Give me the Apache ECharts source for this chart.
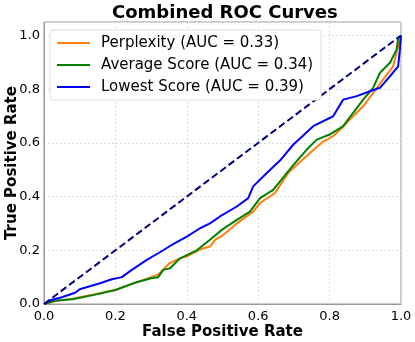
<!DOCTYPE html>
<html>
<head>
<meta charset="utf-8">
<script src="https://cdn.jsdelivr.net/npm/echarts@6/dist/echarts.min.js"></script>
<style>
  html, body { margin: 0; padding: 0; background: #fff; }
  #chart { width: 415px; height: 342px; }
</style>
</head>
<body>
<div id="chart"></div>
<script>
// curve values
var perplexityFpr = [0, 0.03, 0.08, 0.14, 0.2, 0.25, 0.3, 0.32, 0.35, 0.38, 0.40, 0.44, 0.465, 0.48, 0.5, 0.54, 0.586, 0.605, 0.647, 0.684, 0.71, 0.745, 0.782, 0.81, 0.829, 0.866, 0.894, 0.922, 0.95, 0.978, 0.992, 1.0]
var perplexityTpr = [0, 0.01, 0.02, 0.035, 0.052, 0.077, 0.10, 0.11, 0.15, 0.17, 0.177, 0.205, 0.214, 0.24, 0.255, 0.30, 0.344, 0.376, 0.413, 0.488, 0.52, 0.562, 0.605, 0.625, 0.649, 0.699, 0.736, 0.786, 0.836, 0.885, 0.96, 1.0]

var averageFpr = [0, 0.03, 0.08, 0.14, 0.2, 0.25, 0.3, 0.32, 0.334, 0.353, 0.381, 0.428, 0.465, 0.498, 0.54, 0.577, 0.605, 0.642, 0.684, 0.70, 0.736, 0.764, 0.80, 0.838, 0.866, 0.894, 0.922, 0.941, 0.969, 0.988, 0.992, 1.0]
var averageTpr = [0, 0.012, 0.018, 0.034, 0.052, 0.077, 0.096, 0.10, 0.127, 0.133, 0.17, 0.20, 0.239, 0.276, 0.313, 0.344, 0.394, 0.425, 0.494, 0.52, 0.575, 0.612, 0.631, 0.662, 0.712, 0.761, 0.805, 0.861, 0.898, 0.948, 0.99, 1.0]

var lowestFpr = [0, 0.02, 0.05, 0.087, 0.10, 0.157, 0.19, 0.218, 0.246, 0.288, 0.32, 0.353, 0.40, 0.437, 0.465, 0.493, 0.54, 0.572, 0.586, 0.624, 0.661, 0.698, 0.754, 0.81, 0.838, 0.876, 0.913, 0.941, 0.969, 0.992, 0.997, 1.0]
var lowestTpr = [0, 0.015, 0.025, 0.042, 0.055, 0.077, 0.092, 0.10, 0.127, 0.164, 0.189, 0.216, 0.251, 0.282, 0.30, 0.326, 0.363, 0.394, 0.438, 0.488, 0.534, 0.593, 0.662, 0.699, 0.761, 0.774, 0.792, 0.805, 0.848, 0.885, 0.948, 1.0]

var chanceLine = [[0, 0], [1, 1]]
var seriesNames = ['Perplexity (AUC = 0.33)', 'Average Score (AUC = 0.34)', 'Lowest Score (AUC = 0.39)']

function zip(xs, ys) {
  return xs.map(function (x, i) { return [x, ys[i]] })
}

var font = 'DejaVu Sans'
var chart = echarts.init(document.getElementById('chart'))

function curve(name, data, color) {
  return {
    name: name,
    type: 'line',
    data: data,
    symbol: 'none',
    lineStyle: { color: color, width: 2 },
    itemStyle: { color: color }
  }
}

chart.setOption({
  animation: false,
  backgroundColor: '#ffffff',
  title: {
    text: 'Combined ROC Curves',
    left: 107,
    top: -1,
    textStyle: { fontFamily: font, fontSize: 18, fontWeight: 'bold', color: '#000' }
  },
  legend: {
    data: seriesNames,
    orient: 'vertical',
    left: 50,
    top: 30,
    icon: 'rect',
    itemWidth: 33,
    itemHeight: 2,
    itemGap: 4,
    padding: [4, 8, 4, 7],
    backgroundColor: '#ffffff',
    borderColor: '#dddddd',
    borderWidth: 1,
    borderRadius: 3,
    textStyle: { fontFamily: font, fontSize: 15, lineHeight: 18, color: '#000', padding: [0, 0, 0, 6] }
  },
  grid: {
    left: 44,
    right: 14,
    top: 22,
    bottom: 38,
    outerBoundsMode: 'none',
    containLabel: false,
    show: true,
    borderColor: '#999999',
    borderWidth: 1
  },
  xAxis: {
    type: 'value',
    min: 0,
    max: 1,
    interval: 0.2,
    name: 'False Positive Rate',
    nameLocation: 'middle',
    nameGap: 21,
    nameMoveOverlap: false,
    nameTextStyle: { fontFamily: font, fontSize: 15, fontWeight: 'bold', color: '#000' },
    axisLine: { lineStyle: { color: '#999999' } },
    axisTick: { show: false },
    axisLabel: {
      margin: 6,
      fontFamily: font,
      fontSize: 13,
      color: '#000',
      formatter: function (v) { return v.toFixed(1) }
    },
    splitLine: { lineStyle: { color: '#dcdcdc', type: [2, 2] } }
  },
  yAxis: {
    type: 'value',
    min: 0,
    max: 1.05,
    interval: 0.2,
    name: 'True Positive Rate',
    nameLocation: 'middle',
    nameRotate: 90,
    nameGap: 24,
    nameMoveOverlap: false,
    nameTextStyle: { fontFamily: font, fontSize: 15, fontWeight: 'bold', color: '#000' },
    axisLine: { show: true, lineStyle: { color: '#999999' } },
    axisTick: { show: false },
    axisLabel: {
      margin: 4,
      fontFamily: font,
      fontSize: 13,
      color: '#000',
      formatter: function (v) { return v > 1.001 ? '' : v.toFixed(1) }
    },
    splitLine: { lineStyle: { color: '#dcdcdc', type: [2, 2] } }
  },
  series: [
    curve(seriesNames[0], zip(perplexityFpr, perplexityTpr), '#ff7f0e'),
    curve(seriesNames[1], zip(averageFpr, averageTpr), '#008000'),
    curve(seriesNames[2], zip(lowestFpr, lowestTpr), '#0000ff'),
    {
      type: 'line',
      data: chanceLine,
      symbol: 'none',
      lineStyle: { color: '#000080', width: 2, type: [7, 3.5] }
    }
  ]
})
</script>
</body>
</html>
